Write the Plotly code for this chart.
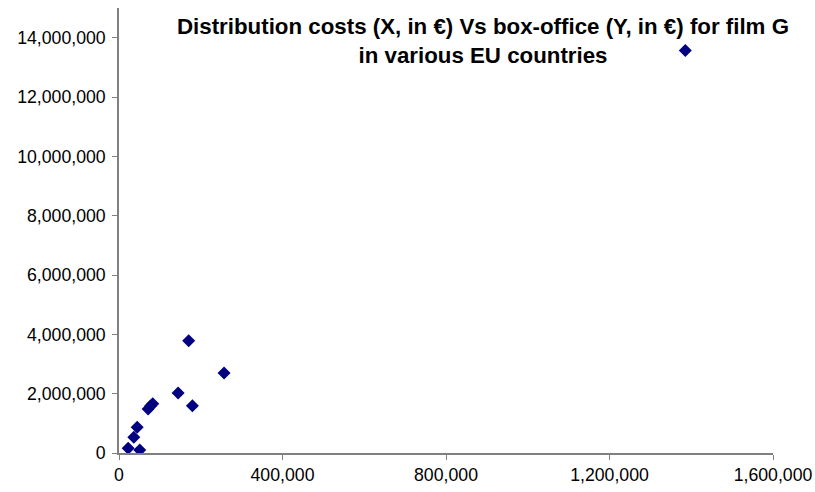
import plotly.graph_objects as go

# Distribution costs (EUR) per country
distribution_costs = [22500, 50800, 36200, 44500, 71300, 77000, 82600,
                      144600, 179600, 170500, 257000, 1385500]
# Box-office takings (EUR) per country
box_office = [158500, 101000, 529500, 866800, 1484000, 1585000, 1663000,
              2024000, 1595000, 3786000, 2698000, 13568000]

title_text = ("Distribution costs (X, in €) Vs box-office (Y, in €) for film G"
              "<br>in various EU countries")

fig = go.Figure()
fig.add_trace(go.Scatter(
    x=distribution_costs,
    y=box_office,
    mode="markers",
    marker=dict(symbol="diamond", size=10, color="#000080",
                line=dict(width=0)),
    showlegend=False,
))

axis_common = dict(
    showgrid=False,
    zeroline=False,
    showline=True,
    linecolor="#808080",
    linewidth=1.5,
    ticks="outside",
    ticklen=5,
    tickcolor="#808080",
    tickwidth=1,
    tickformat=",d",
    automargin=False,
    tickfont=dict(family="Liberation Sans, Arial, sans-serif", size=17.7,
                  color="#000000"),
)

fig.update_xaxes(range=[0, 1600000], tick0=0, dtick=400000, **axis_common)
fig.update_yaxes(range=[0, 15000000], tick0=0, dtick=2000000,
                 ticklabelstandoff=3, **axis_common)

fig.add_annotation(
    text=title_text,
    xref="paper", yref="paper",
    x=0.557, y=0.99,
    showarrow=False,
    align="center",
    font=dict(family="Liberation Sans, Arial, sans-serif", size=22.3,
              color="#000000", weight="bold"),
)

fig.update_layout(
    width=815, height=492,
    margin=dict(l=119, r=42, t=8, b=39),
    paper_bgcolor="#ffffff",
    plot_bgcolor="#ffffff",
)

fig.write_html("out.html")
